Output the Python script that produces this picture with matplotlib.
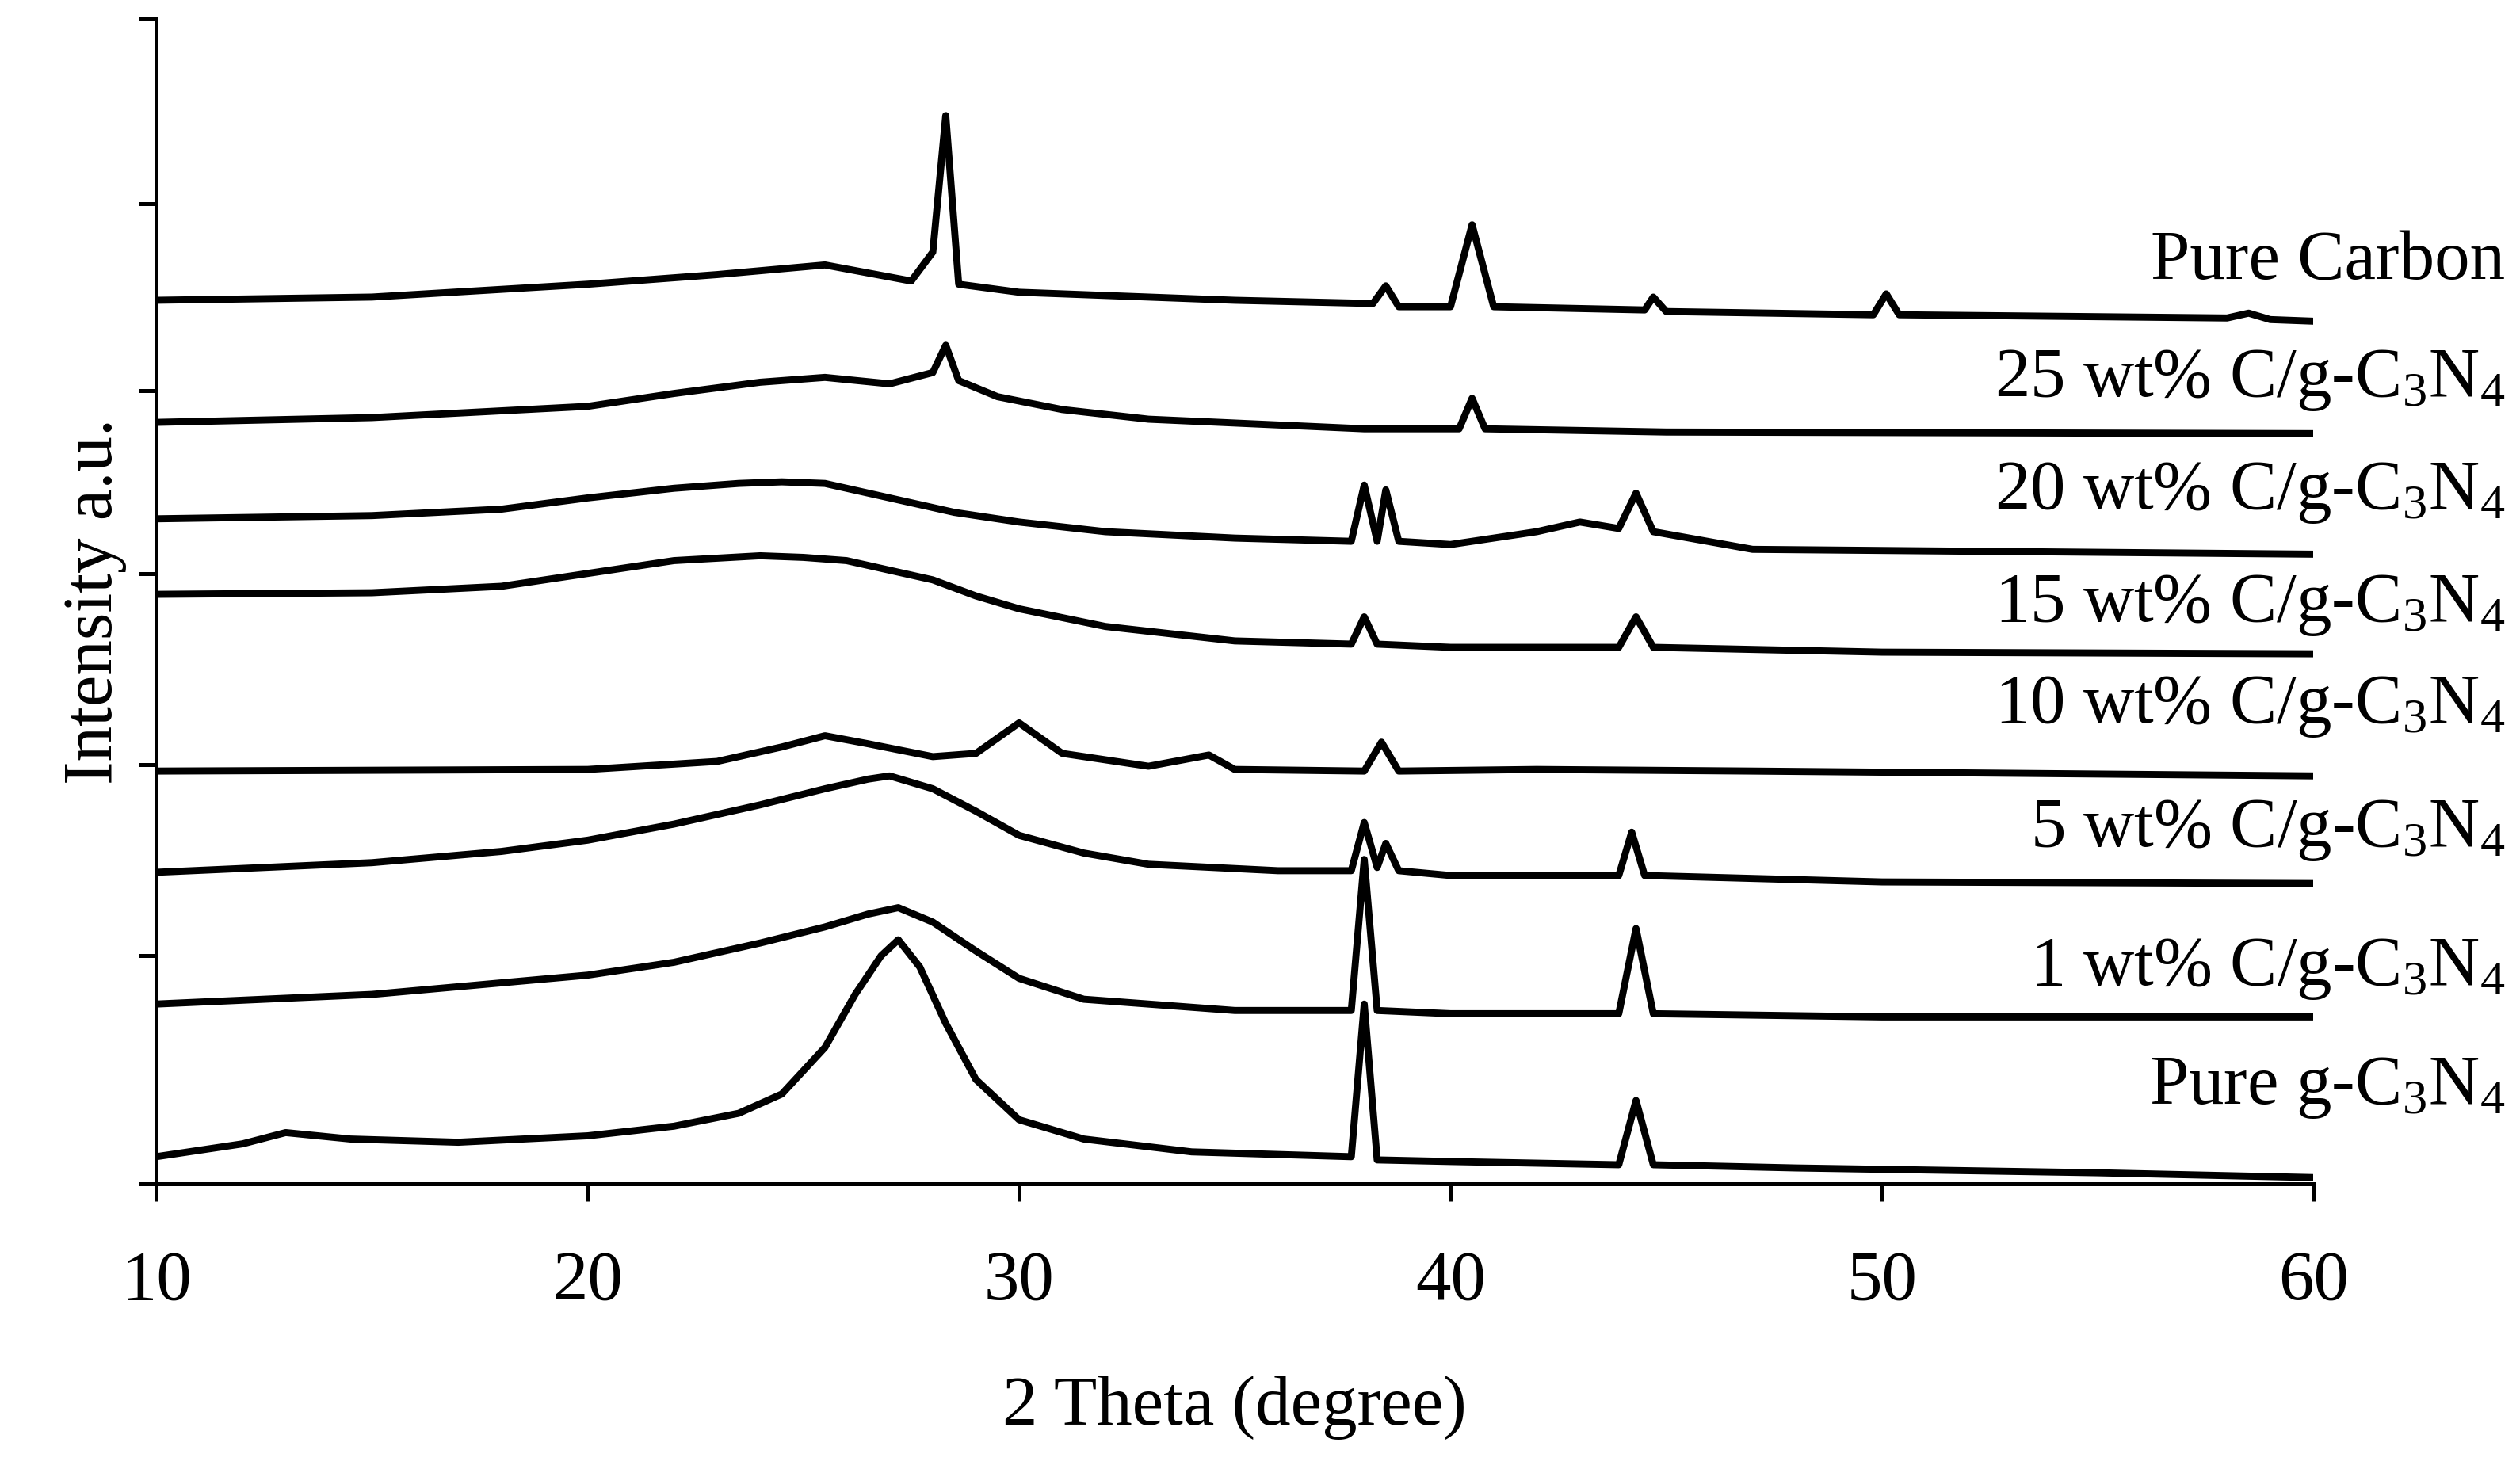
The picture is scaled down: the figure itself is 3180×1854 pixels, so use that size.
import matplotlib
matplotlib.use("Agg")
import matplotlib.pyplot as plt

plt.rcParams['font.family'] = ['Liberation Serif', 'DejaVu Serif']
plt.rcParams['mathtext.fontset'] = 'custom'
plt.rcParams['mathtext.rm'] = 'Liberation Serif'
plt.rcParams['mathtext.it'] = 'Liberation Serif'

# Key points (2theta, intensity in arbitrary offset units)
g_x = [10, 12, 13, 14.5, 17, 20, 22, 23.5, 24.5, 25.5, 26.2, 26.8, 27.2, 27.7, 28.3, 29, 30, 31.5, 34, 37.7, 38.0, 38.3, 40, 43.9, 44.3, 44.7, 48, 55, 60]
g_y = [17, 25, 32, 28, 26, 30, 36, 44, 56, 85, 118, 142, 152, 135, 100, 65, 40, 28, 20, 17, 112, 15, 14, 12, 52, 12, 10, 7, 4]
w1_x = [10, 15, 20, 22, 24, 25.5, 26.5, 27.2, 28, 29, 30, 31.5, 35, 37.7, 38.0, 38.3, 40, 43.9, 44.3, 44.7, 50, 60]
w1_y = [112, 118, 130, 138, 150, 160, 168, 172, 163, 145, 128, 115, 108, 108, 202, 108, 106, 106, 159, 106, 104, 104]
w5_x = [10, 15, 18, 20, 22, 24, 25.5, 26.5, 27, 28, 29, 30, 31.5, 33, 36, 37.7, 38.0, 38.3, 38.5, 38.8, 40, 43.9, 44.2, 44.5, 50, 60]
w5_y = [194, 200, 207, 214, 224, 236, 246, 252, 254, 246, 232, 217, 206, 199, 195, 195, 225, 197, 212, 195, 192, 192, 219, 192, 188, 187]
w10_x = [10, 20, 23, 24.5, 25.5, 26.5, 28, 29, 30, 31, 33, 34.4, 35, 38, 38.4, 38.8, 42, 47, 60]
w10_y = [257, 258, 263, 272, 279, 274, 266, 268, 287, 268, 260, 267, 258, 257, 275, 257, 258, 257, 254]
w15_x = [10, 15, 18, 20, 22, 24, 25, 26, 27, 28, 29, 30, 32, 35, 37.7, 38.0, 38.3, 40, 43.9, 44.3, 44.7, 50, 60]
w15_y = [367, 368, 372, 380, 388, 391, 390, 388, 382, 376, 366, 358, 347, 338, 336, 353, 336, 334, 334, 353, 334, 331, 330]
w20_x = [10, 15, 18, 20, 22, 23.5, 24.5, 25.5, 26.5, 27.5, 28.5, 30, 32, 35, 37.7, 38.0, 38.3, 38.5, 38.8, 40, 42, 43, 43.9, 44.3, 44.7, 47, 60]
w20_y = [414, 416, 420, 427, 433, 436, 437, 436, 430, 424, 418, 412, 406, 402, 400, 435, 400, 432, 400, 398, 406, 412, 408, 430, 406, 395, 392]
w25_x = [10, 15, 20, 22, 24, 25.5, 27, 28.0, 28.3, 28.6, 29.5, 31, 33, 38, 40.2, 40.5, 40.8, 45, 60]
w25_y = [474, 477, 484, 492, 499, 502, 498, 505, 522, 500, 490, 482, 476, 470, 470, 489, 470, 468, 467]
pc_x = [10, 15, 20, 23, 25.5, 27.5, 28.0, 28.3, 28.6, 30, 35, 38.2, 38.5, 38.8, 40.0, 40.5, 41.0, 44.5, 44.7, 45, 49.8, 50.1, 50.4, 58, 58.5, 59, 60]
pc_y = [550, 552, 560, 566, 572, 562, 580, 665, 560, 555, 550, 548, 559, 546, 546, 597, 546, 544, 552, 543, 541, 554, 541, 539, 542, 538, 537]

series_x = [g_x, w1_x, w5_x, w10_x, w15_x, w20_x, w25_x, pc_x]
series_y = [g_y, w1_y, w5_y, w10_y, w15_y, w20_y, w25_y, pc_y]
labels = ["Pure g-C$_3$N$_4$", "1 wt% C/g-C$_3$N$_4$", "5 wt% C/g-C$_3$N$_4$",
          "10 wt% C/g-C$_3$N$_4$", "15 wt% C/g-C$_3$N$_4$", "20 wt% C/g-C$_3$N$_4$",
          "25 wt% C/g-C$_3$N$_4$", "Pure Carbon"]
label_y = [60, 134, 220, 297, 360, 430, 500, 574]
yticks = [0, 142, 261, 380, 494, 610, 725]

fig = plt.figure(figsize=(15.9, 9.27), dpi=200)
ax = fig.add_axes([0.062, 0.194, 0.856, 0.793])
for xs, ys in zip(series_x, series_y):
    ax.plot(xs, ys, color='black', lw=3.2)
for lab, ly in zip(labels, label_y):
    ax.text(1.089, ly, lab, transform=ax.get_yaxis_transform(), ha='right', va='center',
            fontsize=32, clip_on=False)
ax.set_xlim(10, 60)
ax.set_ylim(0, 725)
ax.set_xticks([10, 20, 30, 40, 50, 60])
ax.set_yticks(yticks)
ax.set_yticklabels([])
for s in ['top', 'right']:
    ax.spines[s].set_visible(False)
for s in ['left', 'bottom']:
    ax.spines[s].set_linewidth(1.8)
ax.tick_params(axis='x', direction='out', length=8, width=1.8, labelsize=32, pad=22)
ax.tick_params(axis='y', direction='out', length=8, width=1.8)
ax.set_xlabel("2 Theta (degree)", fontsize=32, labelpad=28)
ax.set_ylabel("Intensity a.u.", fontsize=32, labelpad=2)
fig.savefig("out.png", dpi=200)
